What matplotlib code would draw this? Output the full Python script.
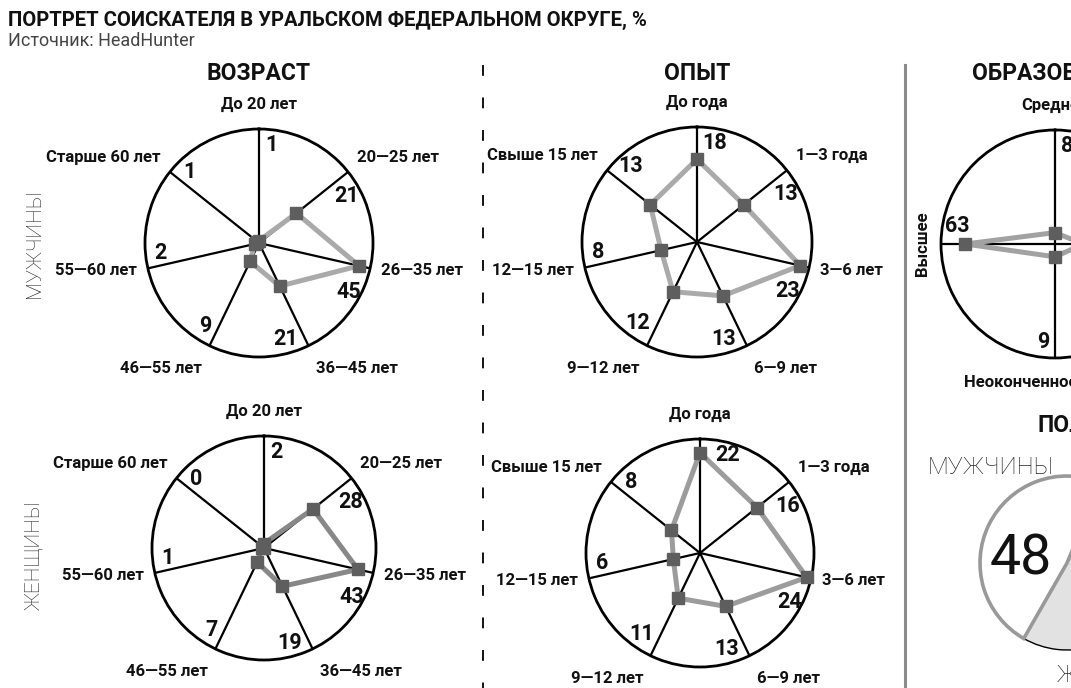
import numpy as np
import matplotlib
matplotlib.use("Agg")
import matplotlib.pyplot as plt
from matplotlib.lines import Line2D
import matplotlib.font_manager as fm

# ---------------- data ----------------
age_labels = ['До 20 лет', '20—25 лет', '26—35 лет', '36—45 лет', '46—55 лет', '55—60 лет', 'Старше 60 лет']
age_men = [1, 21, 45, 21, 9, 2, 1]
age_women = [2, 28, 43, 19, 7, 1, 0]

exp_labels = ['До года', '1—3 года', '3—6 лет', '6—9 лет', '9—12 лет', '12—15 лет', 'Свыше 15 лет']
exp_men = [18, 13, 23, 13, 12, 8, 13]
exp_women = [22, 16, 24, 13, 11, 6, 8]

edu_labels = ['Среднее', 'Среднее специальное', 'Неоконченное высшее', 'Высшее']
edu_values = [8, 20, 9, 63]

gender_labels = ['МУЖЧИНЫ', 'ЖЕНЩИНЫ']
gender_values = [48, 52]

title = 'ПОРТРЕТ СОИСКАТЕЛЯ В УРАЛЬСКОМ ФЕДЕРАЛЬНОМ ОКРУГЕ, %'
subtitle = 'Источник: HeadHunter'

# ---------------- fonts ----------------
names = {f.name for f in fm.fontManager.ttflist}
MAIN = 'Roboto' if 'Roboto' in names else 'DejaVu Sans'
NARROW = 'Liberation Sans Narrow' if 'Liberation Sans Narrow' in names else MAIN

W, H = 1071, 688
fig = plt.figure(figsize=(W / 100, H / 100), dpi=100)
fig.patch.set_facecolor('white')


def ftext(x, y, s, **kw):
    return fig.text(x / W, 1 - y / H, s, **kw)


def nfont(size, weight='bold'):
    return dict(family=[NARROW, 'DejaVu Sans'], fontsize=size, fontweight=weight,
                color='#111111')


def radar(cx, cy, r, labels, values, vmax, color, rotations=None,
          label_fs=12, val_fs=15.5):
    ax = fig.add_axes([(cx - r) / W, 1 - (cy + r) / H, 2 * r / W, 2 * r / H],
                      projection='polar')
    ax.set_theta_zero_location('N')
    ax.set_theta_direction(-1)
    ax.set_ylim(0, vmax)
    ax.set_xticks([])
    ax.set_yticks([])
    ax.grid(False)
    ax.spines['polar'].set_linewidth(2.0)
    ax.spines['polar'].set_color('black')
    n = len(labels)
    th = np.arange(n) * 2 * np.pi / n
    for t in th:
        ax.plot([t, t], [0, vmax], color='black', lw=1.6, clip_on=False,
                solid_capstyle='butt', zorder=2)
    vals = np.asarray(values, dtype=float)
    ax.plot(np.append(th, th[0]), np.append(vals, vals[0]), color=color, lw=3.6,
            zorder=3, solid_joinstyle='miter', clip_on=False)
    ax.plot(th, vals, 's', ms=8.5, color='#5e5e5e', zorder=4, clip_on=False)
    for i, (t, lab, v) in enumerate(zip(th, labels, values)):
        s, c = np.sin(t), np.cos(t)
        rot = 0 if rotations is None else rotations[i]
        ha = 'left' if s > 0.2 else ('right' if s < -0.2 else 'center')
        va = 'bottom' if c > 0.5 else ('top' if c < -0.5 else 'center')
        lr = 1.15 if abs(c) > 0.85 else 1.1
        ax.text(t, vmax * lr, lab, ha=ha, va=va, rotation=rot,
                clip_on=False, **nfont(label_fs))
        # value label: just clockwise of the spoke, near the rim,
        # pushed further away when the marker sits near the rim
        d = 0.86 * r
        p = 6 + 6 * len(str(v)) + (10 if v / vmax > 0.8 else 0)
        tv = t + np.arctan2(p, d)
        rv = np.hypot(d, p) / r * vmax
        ax.text(tv, rv, str(v), ha='center', va='center', clip_on=False,
                **nfont(val_fs))
    return ax


# ---------------- radars ----------------
radar(259, 243, 114, age_labels, age_men, 50, '#aaaaaa')
radar(264, 548, 112, age_labels, age_women, 50, '#888888')
radar(697, 242, 115, exp_labels, exp_men, 25, '#aaaaaa')
radar(700, 553, 114, exp_labels, exp_women, 25, '#9c9c9c')
radar(1055, 244, 114, edu_labels, edu_values, 80, '#a2a2a2',
      rotations=[0, -90, 0, 90])

# ---------------- gender pie ----------------
pcx, pcy, pr = 1067, 563, 87
pad = 1.03
axp = fig.add_axes([(pcx - pr * pad) / W, 1 - (pcy + pr * pad) / H,
                    2 * pr * pad / W, 2 * pr * pad / H])
wedges, _ = axp.pie(gender_values, startangle=67.4, counterclock=True,
                    colors=['white', '#e2e2e2'], radius=1)
wedges[1].set_edgecolor('black')
wedges[1].set_linewidth(1.0)
wedges[1].set_zorder(2)
wedges[0].set_edgecolor('#999999')
wedges[0].set_linewidth(2.6)
wedges[0].set_zorder(3)
for w in wedges:
    w.set_clip_on(False)
axp.set_xlim(-pad, pad)
axp.set_ylim(-pad, pad)
axp.set_aspect('equal')
axp.axis('off')
axp.text(-0.53, 0.05, str(gender_values[0]), ha='center', va='center',
         family=[MAIN, 'DejaVu Sans'], fontsize=40, fontweight='normal', color='#111111')
axp.text(0.5, 0.0, str(gender_values[1]), ha='center', va='center',
         family=[MAIN, 'DejaVu Sans'], fontsize=40, fontweight='normal', color='#111111')

ftext(928, 468, gender_labels[0], ha='left', va='center', family=[MAIN, 'DejaVu Sans'],
      fontsize=17.5, fontweight='light', color='#222222')
ftext(1057, 676, gender_labels[1], ha='left', va='center', family=[MAIN, 'DejaVu Sans'],
      fontsize=17.5, fontweight='light', color='#222222')

# ---------------- titles ----------------
ftext(8, 20, title, ha='left', va='center', family=[MAIN, 'DejaVu Sans'],
      fontsize=14.6, fontweight='bold', color='#111111')
ftext(8, 41, subtitle, ha='left', va='center', family=[MAIN, 'DejaVu Sans'],
      fontsize=13, color='#444444')

ftext(259, 74, 'ВОЗРАСТ', ha='center', va='center', **nfont(16.5))
ftext(697, 74, 'ОПЫТ', ha='center', va='center', **nfont(16.5))
ftext(1055, 74, 'ОБРАЗОВАНИЕ', ha='center', va='center', **nfont(16.5))
ftext(1062, 426, 'ПОЛ', ha='center', va='center', **nfont(16.5))

ftext(34, 244, 'МУЖЧИНЫ', ha='center', va='center', rotation=90,
      family=[MAIN, 'DejaVu Sans'], fontsize=15, fontweight='light', color='#222222')
ftext(34, 555, 'ЖЕНЩИНЫ', ha='center', va='center', rotation=90,
      family=[MAIN, 'DejaVu Sans'], fontsize=15, fontweight='light', color='#222222')

# ---------------- separators ----------------
fig.add_artist(Line2D([483 / W, 483 / W], [1 - 65 / H, 0], transform=fig.transFigure,
                      color='black', lw=1.3, linestyle=(0, (6, 12))))
fig.add_artist(Line2D([905 / W, 905 / W], [1 - 65 / H, 0], transform=fig.transFigure,
                      color='#8c8c8c', lw=2.2))

fig.savefig('out.png', dpi=100, facecolor='white')
